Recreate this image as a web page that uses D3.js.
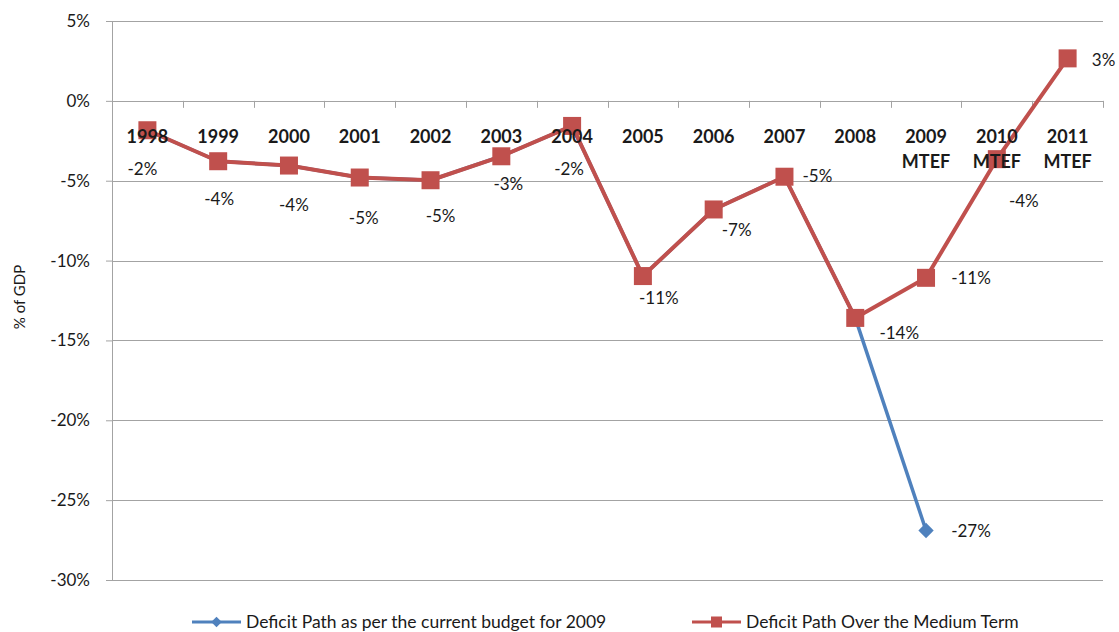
<!DOCTYPE html>
<html>
<head>
<meta charset="utf-8">
<script src="https://cdn.jsdelivr.net/npm/d3@7"></script>
<style>
  html, body { margin: 0; padding: 0; background: #fff; }
  svg { display: block; font-family: Lato, "Open Sans", sans-serif; }
</style>
</head>
<body>
<svg id="chart" width="1119" height="632"></svg>
<script>
// Fiscal years on the category axis (second line shown under the year)
const categories = ["1998", "1999", "2000", "2001", "2002", "2003", "2004",
                    "2005", "2006", "2007", "2008", "2009", "2010", "2011"];
const categorySubLabels = ["", "", "", "", "", "", "", "", "", "", "", "MTEF", "MTEF", "MTEF"];

// Deficit as % of GDP
const budgetPath = [-1.84, -3.78, -4.05, -4.8, -4.97, -3.47, -1.57,
                    -10.97, -6.8, -4.75, -13.59, -26.9, null, null];
const mediumTermPath = [-1.84, -3.78, -4.05, -4.8, -4.97, -3.47, -1.57,
                        -10.97, -6.8, -4.75, -13.59, -11.08, -3.65, 2.66];

const yTicks = [5, 0, -5, -10, -15, -20, -25, -30];

const seriesNames = ["Deficit Path as per the current budget for 2009",
                     "Deficit Path Over the Medium Term"];

// Data-label placement (pixel offsets from each marker)
const mediumLabelOffsets = [[-5, 38], [1, 37], [5, 39], [4, 40], [10, 35], [7, 27], [-3, 43],
                            [16, 21], [23, 20], [33, -1], [44, 15], [45, 0], [27, 41], [36, 1]];
const budgetLabelOffset = [45, 0];

const svg = d3.select("#chart");
const plotLeft = 112, plotRight = 1103, plotTop = 21, plotBottom = 580;

const x = d3.scaleBand().domain(categories).range([plotLeft, plotRight]).padding(0);
const y = d3.scaleLinear().domain([-30, 5]).range([plotBottom, plotTop]);
const cx = c => x(c) + x.bandwidth() / 2;

const gridColor = "#a3a3a3";
const red = "#C0504D", blue = "#4F81BD";
// Rounded percent with a plain hyphen for negatives
const fmt = v => Math.round(v) + "%";

// Horizontal gridlines with left ticks
const yAxis = d3.axisLeft(y).tickValues(yTicks).tickSize(6).tickPadding(16)
  .tickFormat(d => d + "%");
const yg = svg.append("g").attr("transform", `translate(${plotLeft},0)`).call(yAxis);
yg.select(".domain").attr("stroke", gridColor);
yg.selectAll(".tick line").attr("stroke", gridColor);
yg.selectAll(".tick text").attr("font-size", 17).attr("fill", "#1a1a1a")
  .attr("font-family", "Lato, sans-serif");
svg.append("g").selectAll("line").data(yTicks).join("line")
  .attr("x1", plotLeft).attr("x2", plotRight)
  .attr("y1", d => Math.round(y(d)) + 0.5).attr("y2", d => Math.round(y(d)) + 0.5)
  .attr("stroke", gridColor).attr("stroke-width", 1);

// Category axis ticks hanging from the zero line
const boundaries = categories.map(c => x(c)).concat([plotRight]);
svg.append("g").selectAll("line").data(boundaries).join("line")
  .attr("x1", d => Math.round(d) + 0.5).attr("x2", d => Math.round(d) + 0.5)
  .attr("y1", y(0)).attr("y2", y(0) + 7)
  .attr("stroke", gridColor);

// Y axis title
svg.append("text")
  .attr("transform", "translate(25,297) rotate(-90)")
  .attr("text-anchor", "middle")
  .attr("font-size", 15).attr("fill", "#1a1a1a")
  .text("% of GDP");

// Series lines
const line = d3.line()
  .defined(d => d.v !== null)
  .x(d => cx(d.c)).y(d => y(d.v));

const budgetData = categories.map((c, i) => ({ c, v: budgetPath[i] }));
const mediumData = categories.map((c, i) => ({ c, v: mediumTermPath[i] }));

svg.append("path").datum(budgetData).attr("d", line)
  .attr("fill", "none").attr("stroke", blue).attr("stroke-width", 3.5)
  .attr("stroke-linejoin", "round");
const diamond = d3.symbol().type(d3.symbolDiamond2).size(150);
svg.append("g").selectAll("path").data(budgetData.filter(d => d.v !== null)).join("path")
  .attr("d", diamond)
  .attr("transform", d => `translate(${cx(d.c)},${y(d.v)})`)
  .attr("fill", blue);

svg.append("path").datum(mediumData).attr("d", line)
  .attr("fill", "none").attr("stroke", red).attr("stroke-width", 4)
  .attr("stroke-linejoin", "round");
const sq = 18;
svg.append("g").selectAll("rect").data(mediumData).join("rect")
  .attr("x", d => cx(d.c) - sq / 2).attr("y", d => y(d.v) - sq / 2)
  .attr("width", sq).attr("height", sq)
  .attr("fill", red);

// Category labels
const catG = svg.append("g").attr("font-size", 18).attr("font-weight", 700)
  .attr("fill", "#1a1a1a").attr("text-anchor", "middle");
catG.selectAll("text.yr").data(categories).join("text").attr("class", "yr")
  .attr("x", c => cx(c)).attr("y", 143).text(c => c);
catG.selectAll("text.sub").data(categories.filter((c, i) => categorySubLabels[i]))
  .join("text").attr("class", "sub")
  .attr("x", c => cx(c)).attr("y", 168)
  .text(c => categorySubLabels[categories.indexOf(c)]);

// Data labels
const lblG = svg.append("g").attr("font-size", 17).attr("fill", "#1a1a1a")
  .attr("text-anchor", "middle").attr("dominant-baseline", "central");
lblG.selectAll("text.m").data(mediumData).join("text").attr("class", "m")
  .attr("x", (d, i) => cx(d.c) + mediumLabelOffsets[i][0])
  .attr("y", (d, i) => y(d.v) + mediumLabelOffsets[i][1])
  .text(d => fmt(d.v));
// Budget path: only the point where it departs from the medium-term path
const budgetOnly = budgetData.filter((d, i) => d.v !== null && d.v !== mediumTermPath[i]);
lblG.selectAll("text.b").data(budgetOnly).join("text").attr("class", "b")
  .attr("x", d => cx(d.c) + budgetLabelOffset[0])
  .attr("y", d => y(d.v) + budgetLabelOffset[1])
  .text(d => fmt(d.v));

// Legend
const legend = svg.append("g").attr("font-size", 17.5).attr("fill", "#1a1a1a");
const legendItems = [
  { name: seriesNames[0], color: blue, x0: 192, shape: "diamond" },
  { name: seriesNames[1], color: red, x0: 692, shape: "square" }
];
const ly = 622;
legendItems.forEach(it => {
  legend.append("line").attr("x1", it.x0).attr("x2", it.x0 + 49)
    .attr("y1", ly).attr("y2", ly).attr("stroke", it.color).attr("stroke-width", 3);
  if (it.shape === "diamond") {
    legend.append("path").attr("d", d3.symbol().type(d3.symbolDiamond2).size(70))
      .attr("transform", `translate(${it.x0 + 24.5},${ly})`).attr("fill", it.color);
  } else {
    legend.append("rect").attr("x", it.x0 + 19).attr("y", ly - 5.5)
      .attr("width", 11).attr("height", 11).attr("fill", it.color);
  }
  legend.append("text").attr("x", it.x0 + 54).attr("y", ly + 5.5).text(it.name);
});
</script>
</body>
</html>
